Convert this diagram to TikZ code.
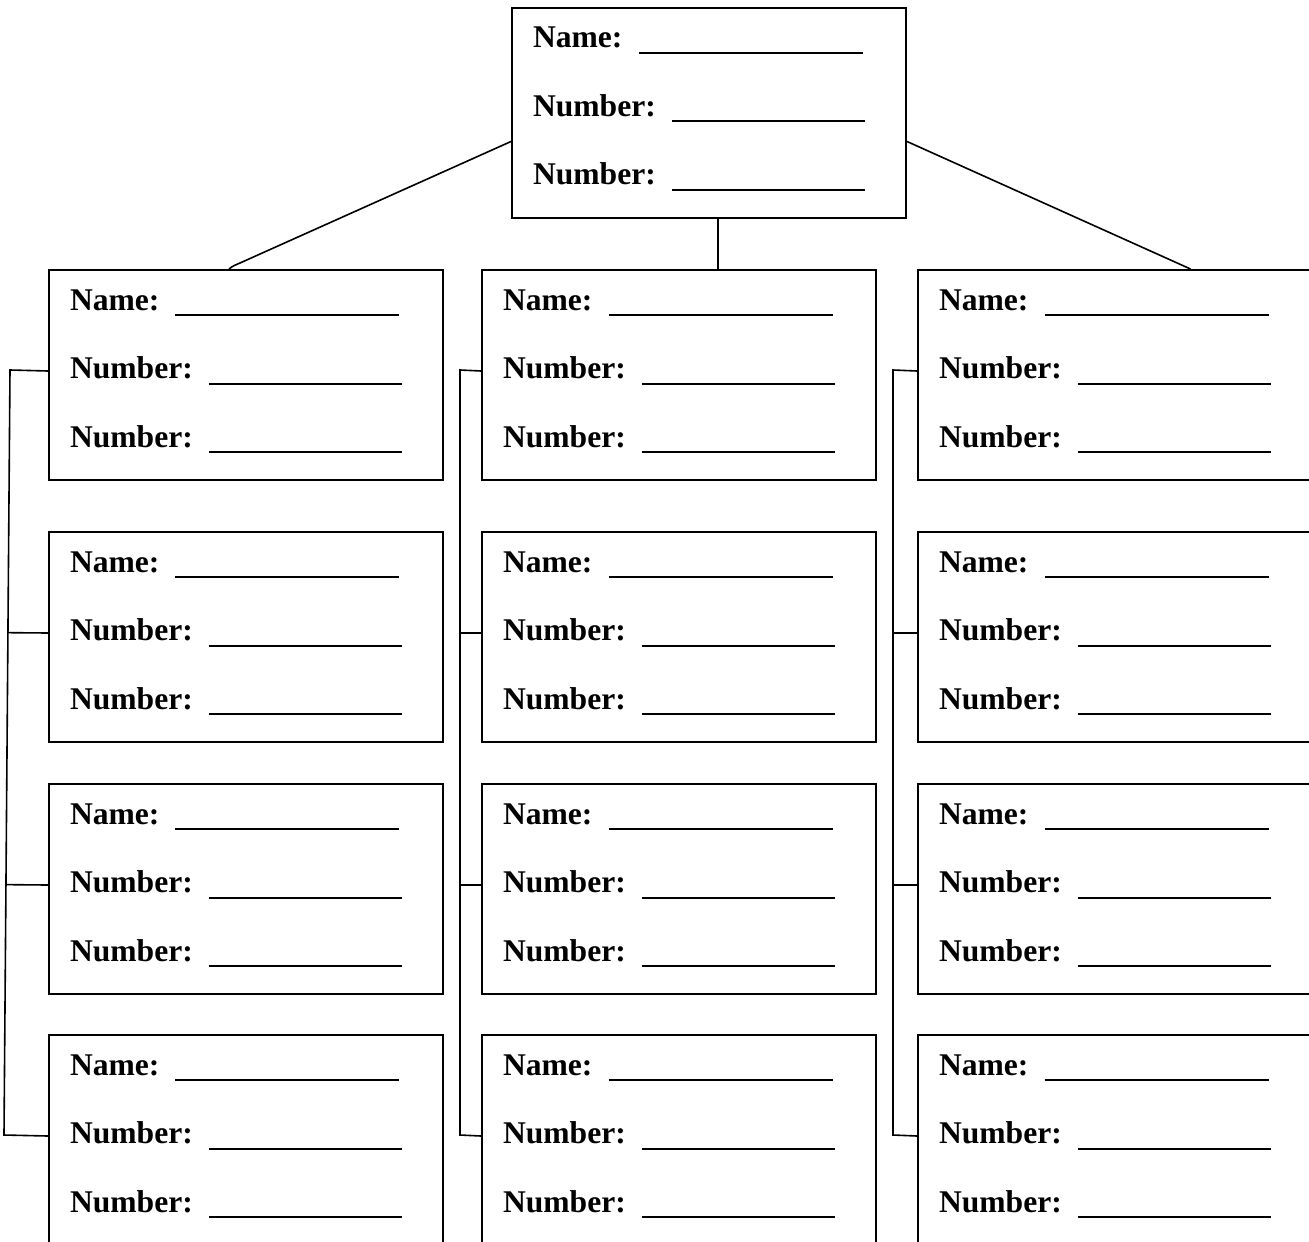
\documentclass[tikz,border=0pt]{standalone}
\usepackage{fontspec}
\setmainfont{Liberation Serif}
\usepackage{tikz}
\usetikzlibrary{calc}
\tikzstyle{field} = [rectangle, draw, line width=1pt, anchor=north west,
    text width=176pt, align=left, inner xsep=10.5pt, inner ysep=0pt,
    text height=20pt, text depth=85pt,
    font=\fontsize{15.8pt}{34.25pt}\selectfont\bfseries]
\tikzstyle{line} = [draw, line width=0.8pt]
\newcommand{\fields}{%
  Name:\hspace{8pt}\rule[-3pt]{112pt}{1pt}\\
  Number:\hspace{8pt}\rule[-3pt]{96.5pt}{1pt}\\
  Number:\hspace{8pt}\rule[-3pt]{96.5pt}{1pt}}

\begin{document}
\begin{tikzpicture}[x=0.5pt, y=-0.5pt]
    \useasboundingbox (0,0) rectangle (1309,1241);
    \clip (0,0) rectangle (1309,1241);
    % Nodes
    \node [field] (top) at (511,7) {\fields};
    \foreach \c/\x in {1/48, 2/481, 3/917}
      \foreach \r/\y in {1/269, 2/531, 3/783, 4/1034}
        \node [field] (b\r\c) at (\x,\y) {\fields};
    \coordinate (lt) at (10,370);  \coordinate (lb) at (4,1135);
    \coordinate (mt) at (460,370); \coordinate (mb) at (460,1135);
    \coordinate (rt) at (893,370); \coordinate (rb) at (893,1135);
    % Edges
    \path [line] ([yshift=-14.25pt]top.west) -- (240,263)
        .. controls (233,266) .. ([xshift=-8.5pt]b11.north);
    \path [line] ([xshift=4.5pt]top.south) -- ([xshift=4.5pt]top.south |- b12.north);
    \path [line] ([yshift=-14.25pt]top.east) -- ([xshift=37.75pt]b13.north);
    \foreach \c/\t/\b in {1/lt/lb, 2/mt/mb, 3/rt/rb} {
      \path [line] ([yshift=2pt]b1\c.west) -- (\t) -- (\b) -- ([yshift=2pt]b4\c.west);
      \foreach \r in {2,3}
        \path [line] ([yshift=2pt]b\r\c.west) -- ($(\t)!([yshift=2pt]b\r\c.west)!(\b)$);
    }
\end{tikzpicture}
\end{document}
